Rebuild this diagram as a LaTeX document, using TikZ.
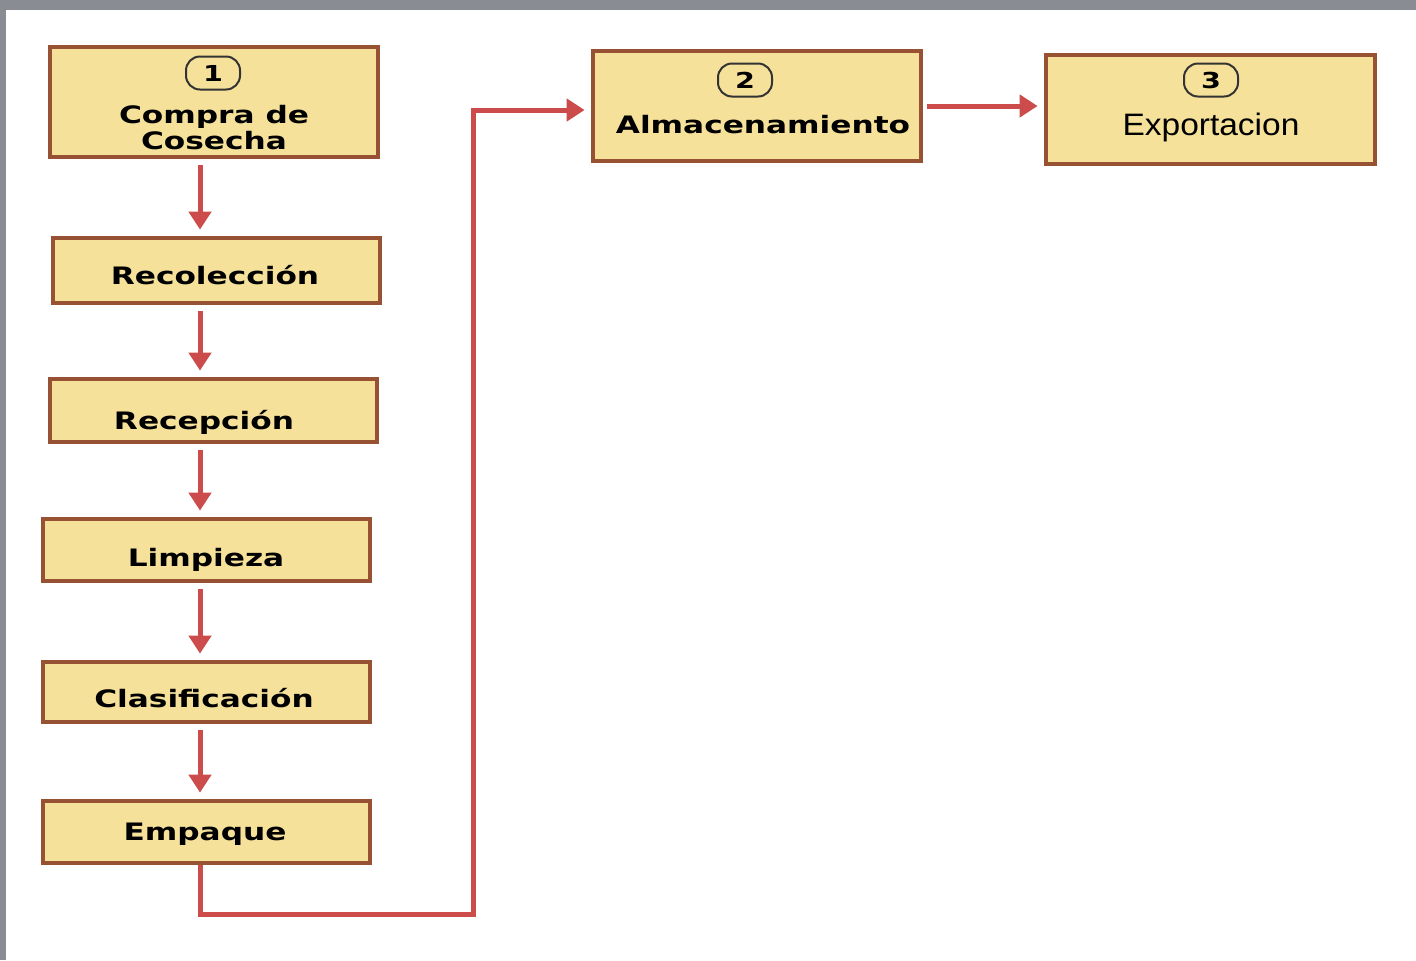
\documentclass[tikz,border=0pt]{standalone}
\usepackage{fontspec}
\setmainfont{DejaVu Sans}[BoldFeatures={FakeStretch=1.3}]
\newfontfamily\expfont{Liberation Sans}[FakeStretch=1.08]
\usetikzlibrary{arrows.meta,calc}
\definecolor{boxfill}{HTML}{F5E19A}
\definecolor{boxline}{HTML}{975233}
\definecolor{arrred}{HTML}{CC4B4B}
\definecolor{framegray}{HTML}{8A8C93}
\tikzset{
  box/.style={draw=boxline, fill=boxfill, line width=2.4pt, inner sep=0pt},
  lbl/.style={font=\bfseries\fontsize{12}{13}\selectfont, inner sep=0pt, align=center},
  badge/.style={draw=black!80, fill=boxfill, line width=1pt, rounded corners=7pt,
    minimum width=27pt, minimum height=16.5pt, inner sep=0pt, font=\bfseries\fontsize{11}{12}\selectfont},
  arr/.style={draw=arrred, line width=2.5pt, -{Triangle[width=11pt,length=9pt]}},
}
\begin{document}
\begin{tikzpicture}[x=0.5pt,y=-0.5pt]
\useasboundingbox (0,0) rectangle (1416,960);
\fill[framegray] (0,0) rectangle (1416,960);
\fill[white] (6,10) rectangle (1416,960);
% boxes
\node[box, minimum width=164pt, minimum height=55pt] (b1) at (214,102) {};
\node[box, minimum width=163.5pt, minimum height=32.5pt] (b2) at (216.5,270.5) {};
\node[box, minimum width=163.5pt, minimum height=31.5pt] (b3) at (213.5,410.5) {};
\node[box, minimum width=163.5pt, minimum height=31pt] (b4) at (206.5,550) {};
\node[box, minimum width=163.5pt, minimum height=30pt] (b5) at (206.5,692) {};
\node[box, minimum width=163.5pt, minimum height=31pt] (b6) at (206.5,832) {};
\node[box, minimum width=164pt, minimum height=55pt] (b7) at (757,106) {};
\node[box, minimum width=164.5pt, minimum height=54.5pt] (b8) at (1210.5,109.5) {};
% labels
\node[badge] (n1) at (213,73) {1};
\node[lbl] (t1) at (214,128) {Compra de\\Cosecha};
\node[lbl] (t2) at (215,275) {Recolección};
\node[lbl] (t3) at (204,422) {Recepción};
\node[lbl] (t4) at (206,560) {Limpieza};
\node[lbl] (t5) at (204,698) {Clasificación};
\node[lbl] (t6) at (205,834) {Empaque};
\node[badge] (n2) at (745,80) {2};
\node[lbl] (t7) at (763,125) {Almacenamiento};
\node[badge] (n3) at (1211,80) {3};
\node[inner sep=0pt, font=\expfont\fontsize{15.5}{16}\selectfont] (t8) at (1211,127) {Exportacion};
% connectors
\coordinate (ax) at (200,0);
\coordinate (c1) at (473,914);
\draw[arr, shorten <=3pt, shorten >=3pt] (b1.south -| ax) -- (b2.north -| ax);
\draw[arr, shorten <=3pt, shorten >=3pt] (b2.south -| ax) -- (b3.north -| ax);
\draw[arr, shorten <=3pt, shorten >=3pt] (b3.south -| ax) -- (b4.north -| ax);
\draw[arr, shorten <=3pt, shorten >=3pt] (b4.south -| ax) -- (b5.north -| ax);
\draw[arr, shorten <=3pt, shorten >=3pt] (b5.south -| ax) -- (b6.north -| ax);
\draw[arr, shorten >=3pt] (b6.south -| ax) |- (c1) |- ([yshift=-2pt]b7.west);
\draw[arr, shorten <=2pt, shorten >=3pt] (b7.east) -- (b7.east -| b8.west);
\end{tikzpicture}
\end{document}
